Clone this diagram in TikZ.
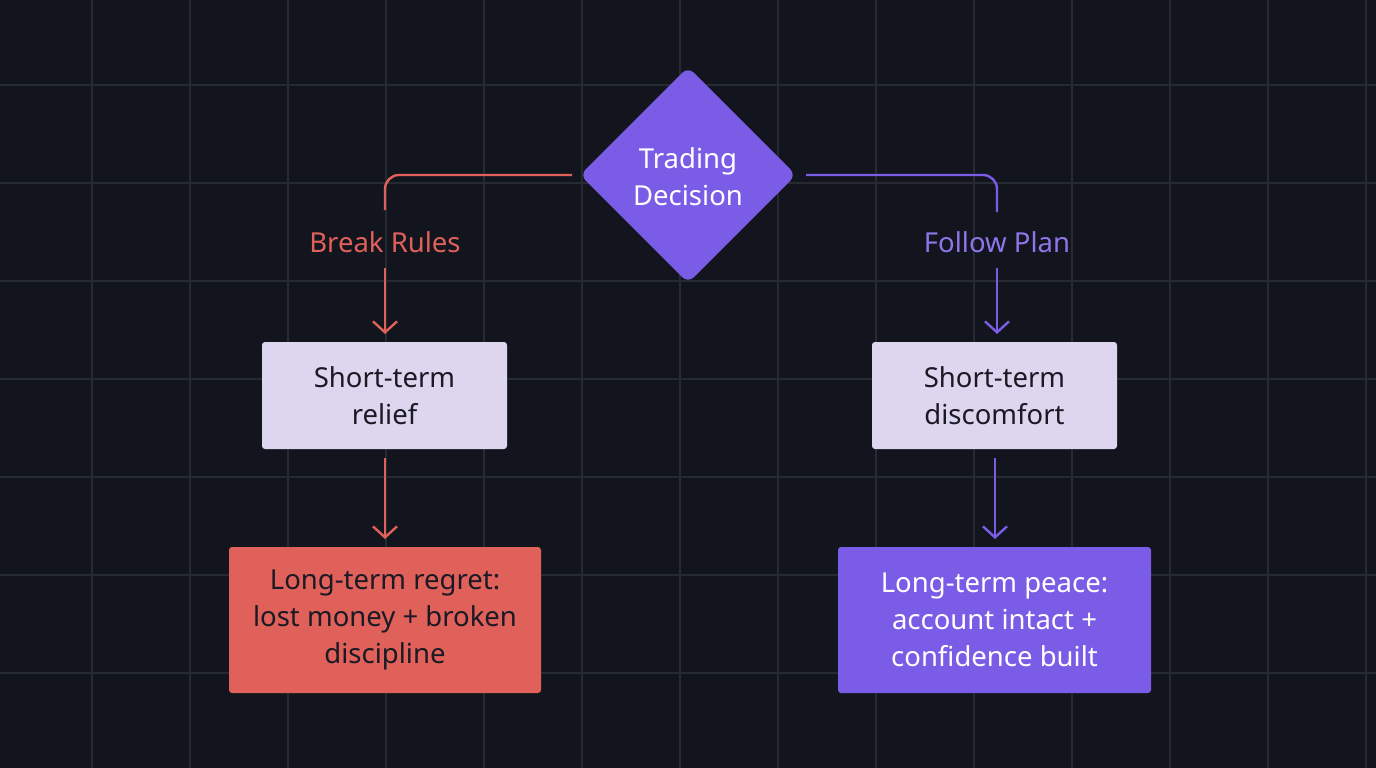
\documentclass[tikz,border=0pt]{standalone}
\usepackage{fontspec}
\setmainfont{Noto Sans}
\usetikzlibrary{arrows.meta}
\definecolor{bg}{HTML}{12151E}
\definecolor{gridc}{HTML}{262A33}
\definecolor{purp}{HTML}{7B5CE6}
\definecolor{redc}{HTML}{E0605A}
\definecolor{lil}{HTML}{DDD6EE}
\definecolor{dark}{HTML}{1A1A24}
\begin{document}
\begin{tikzpicture}[x=1pt,y=-1pt,
  box/.style={rounded corners=3pt,align=center,font=\fontsize{27.5}{37}\selectfont,inner sep=0pt},
  lab/.style={font=\fontsize{27.5}{30}\selectfont},
  conn/.style={line width=2.4pt,rounded corners=14pt},
  arr/.style={line width=2.4pt,-{Straight Barb[length=11pt,width=24pt]}}]
\fill[bg] (0,0) rectangle (1376,768);
\useasboundingbox (0,0) rectangle (1376,768);
\foreach \x in {-6,92,...,1376} \draw[gridc,line width=1.2pt] (\x,0) -- (\x,768);
\foreach \y in {-13,85,...,768} \draw[gridc,line width=1.2pt] (0,\y) -- (1376,\y);
% diamond
\fill[purp,rounded corners=8pt] (688,67) -- (796,175) -- (688,283) -- (580,175) -- cycle;
\node[box,text=white] (dec) at (688,177) {Trading\\Decision};
\coordinate (dl) at (572,175);
\coordinate (dr) at (806,175);
% labels
\node[lab,text=redc] (br) at (385,242) {Break Rules};
\node[lab,text=purp!85!white] (fp) at (997,242) {Follow Plan};
% boxes
\node[box,fill=lil,text=dark,minimum width=245pt,minimum height=107pt] (s1) at (384.5,395.5) {Short-term\\relief};
\node[box,fill=lil,text=dark,minimum width=245pt,minimum height=107pt] (s2) at (994.5,395.5) {Short-term\\discomfort};
\node[box,fill=redc,text=dark,minimum width=312pt,minimum height=146pt] (l1) at (385,620) {Long-term regret:\\lost money + broken\\discipline};
\node[box,fill=purp,text=white,minimum width=313pt,minimum height=146pt] (l2) at (994.5,620) {Long-term peace:\\account intact +\\confidence built};
% connectors
\draw[conn,redc] (dl) -| (385,210);
\draw[conn,purp] (dr) -| (997,212);
\draw[arr,redc] (385,268) -- (385,334);
\draw[arr,purp] (997,268) -- (997,334);
\draw[arr,redc] (385,458) -- (385,539);
\draw[arr,purp] (995,458) -- (995,539);
\end{tikzpicture}
\end{document}
